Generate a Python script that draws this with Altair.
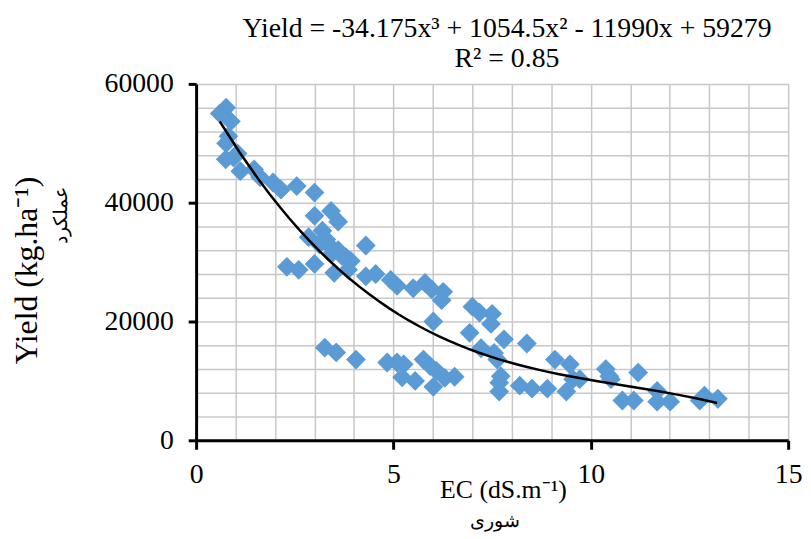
import altair as alt
import pandas as pd

# Salinity (EC, dS/m) vs yield (kg/ha)
ec = [0.76, 0.60, 0.88, 0.82, 0.76, 0.75, 0.95, 1.05, 1.12, 1.47, 1.62, 1.95, 2.15, 2.55,
      3.00, 3.00, 3.42, 3.60, 2.85, 3.20, 3.12, 3.38, 3.60, 3.80, 3.92, 4.30, 2.30, 2.60,
      3.00, 3.50, 3.85, 4.30, 4.55, 4.93, 5.09, 5.50, 5.80, 5.97, 6.26, 6.22, 6.01, 7.00,
      7.18, 7.50, 7.47, 6.93, 7.80, 8.38, 7.22, 7.55, 7.63, 9.09, 9.47, 10.38, 10.47, 7.72,
      7.68, 7.68, 8.20, 8.51, 8.90, 9.38, 9.55, 9.72, 6.55, 6.30, 3.26, 3.55, 4.05, 4.84,
      5.09, 5.26, 5.22, 5.55, 5.76, 5.93, 6.09, 6.01, 10.80, 11.09, 11.20, 11.68, 11.68,
      12.01, 12.76, 12.88, 13.22, 10.51, 3.30, 3.45, 3.70]
yld = [56000, 55000, 53700, 51200, 50000, 47300, 47600, 48300, 45300, 45600, 44300, 43400,
       42200, 42800, 41700, 37800, 38600, 36800, 34200, 35300, 33000, 32800, 32000, 30800,
       30200, 32800, 29200, 28700, 29700, 28200, 28700, 27600, 28000, 27000, 26000, 25600,
       26500, 25400, 25000, 23600, 20000, 22500, 21500, 21300, 19600, 18100, 17000, 16300,
       15500, 14700, 13600, 13600, 12800, 12000, 10800, 10800, 9700, 8200, 9200, 8700, 8700,
       8200, 10300, 10300, 10700, 10500, 15600, 14800, 13600, 13100, 13100, 12800, 10600,
       10000, 13600, 12500, 11700, 9000, 6700, 6700, 11400, 8300, 6500, 6500, 6700, 7500,
       7000, 10300, 33800, 31500, 31000]

x_grid = list(range(0, 16))
y_grid = list(range(0, 60001, 4000))
x_ticks = [0, 5, 10, 15]
y_ticks = [0, 20000, 40000, 60000]

title_lines = ["Yield = -34.175x³ + 1054.5x² - 11990x + 59279", "R² = 0.85"]
x_title = "EC (dS.m⁻¹)"
y_title = "Yield (kg.ha⁻¹)"
x_title_fa = "شوری"
y_title_fa = "عملکرد"

FONT = "Liberation Serif"
BLUE = "#5B9BD5"
GRID = "#c8c8c8"

df = pd.DataFrame({"EC": ec, "Yield": yld})
xs = alt.Scale(domain=[0, 15], nice=False)
ys = alt.Scale(domain=[0, 60000], nice=False)

# gridlines only (every 1 dS/m and every 4000 kg/ha)
grid_layer = alt.Chart(df).mark_point(opacity=0).encode(
    x=alt.X("EC:Q", scale=xs, axis=alt.Axis(
        orient="bottom", values=x_grid, grid=True, gridColor=GRID, gridWidth=1.5,
        labels=False, ticks=False, domain=False, title=None)),
    y=alt.Y("Yield:Q", scale=ys, axis=alt.Axis(
        orient="left", values=y_grid, grid=True, gridColor=GRID, gridWidth=1.5,
        labels=False, ticks=False, domain=False, title=None)),
)

x_axis = alt.Axis(
    orient="bottom", values=x_ticks, grid=False,
    tickSize=9, tickWidth=3, tickColor="black", domainColor="black", domainWidth=3,
    labelFont=FONT, labelFontSize=28, labelColor="black", labelPadding=12,
    labelFlush=False, labelOverlap=False,
    title=x_title, titleFont=FONT, titleFontSize=26, titleFontWeight="normal",
    titleColor="black", titleX=310, titleY=50, titleBaseline="middle", titleAlign="center",
)
y_axis = alt.Axis(
    orient="left", values=y_ticks, grid=False, format="d",
    tickSize=8, tickWidth=3, tickColor="black", domainColor="black", domainWidth=3,
    labelFont=FONT, labelFontSize=28, labelColor="black", labelPadding=15,
    labelOverlap=False,
    title=y_title, titleFont=FONT, titleFontSize=32, titleFontWeight="normal",
    titleColor="black", titleX=-161, titleY=188, titleAngle=270,
    titleBaseline="alphabetic", titleAlign="center",
)

points = alt.Chart(df).mark_point(
    shape="diamond", filled=True, size=400, color=BLUE, opacity=1
).encode(
    x=alt.X("EC:Q", scale=xs, axis=x_axis),
    y=alt.Y("Yield:Q", scale=ys, axis=y_axis),
)

trend = alt.Chart(df).transform_regression(
    "EC", "Yield", method="poly", order=3, extent=[0.6, 13.2]
).mark_line(color="black", strokeWidth=2.5).encode(
    x=alt.X("EC:Q", scale=xs, axis=None),
    y=alt.Y("Yield:Q", scale=ys, axis=None),
)

fa_x = alt.Chart(pd.DataFrame({"t": [x_title_fa]})).mark_text(
    font="Noto Sans", fontSize=19, color="black", baseline="middle", align="center"
).encode(x=alt.value(302), y=alt.value(442), text="t:N")

fa_y = alt.Chart(pd.DataFrame({"t": [y_title_fa]})).mark_text(
    font="Noto Sans", fontSize=19, color="black", baseline="middle", align="center", angle=270
).encode(x=alt.value(-136), y=alt.value(133), text="t:N")

chart = alt.layer(grid_layer, points, trend, fa_x, fa_y).resolve_axis(
    x="independent", y="independent"
).properties(
    width=598, height=360,
    autosize=alt.AutoSizeParams(type="none"),
    padding={"left": 190, "top": 74, "right": 15, "bottom": 96},
    title=alt.TitleParams(
        text=title_lines, font=FONT, fontSize=28, fontWeight="normal", color="black",
        anchor="middle", dx=15, dy=13, offset=10, lineHeight=30,
    ),
).configure_view(stroke=None)

chart.save("out.html", embed_options={"renderer": "svg", "actions": False})
